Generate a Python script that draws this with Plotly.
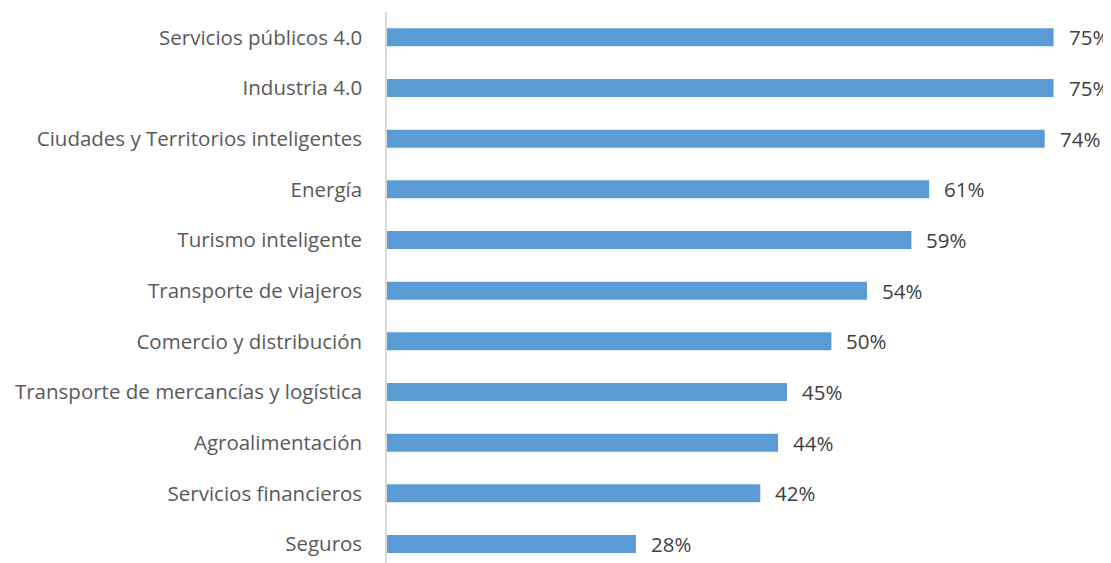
import plotly.graph_objects as go

categories = [
    "Servicios públicos 4.0",
    "Industria 4.0",
    "Ciudades y Territorios inteligentes",
    "Energía",
    "Turismo inteligente",
    "Transporte de viajeros",
    "Comercio y distribución",
    "Transporte de mercancías y logística",
    "Agroalimentación",
    "Servicios financieros",
    "Seguros",
]
values = [75, 75, 74, 61, 59, 54, 50, 45, 44, 42, 28]
labels = ["75%", "75%", "74%", "61%", "59%", "54%", "50%", "45%", "44%", "42%", "28%"]

# bottom-to-top order for plotting
cats_plot = categories[::-1]
vals_plot = values[::-1]
labs_plot = labels[::-1]

FONT = "Open Sans"

fig = go.Figure()
fig.add_trace(go.Bar(
    y=cats_plot,
    x=vals_plot,
    orientation="h",
    marker=dict(color="#5B9BD5", line=dict(width=0)),
    hoverinfo="skip",
))

for c, v, t in zip(cats_plot, vals_plot, labs_plot):
    fig.add_annotation(
        x=v, y=c, text=t, showarrow=False, xanchor="left", xshift=13,
        font=dict(family=FONT, size=20.5, color="#404040"),
    )

fig.update_layout(
    width=1103, height=555,
    margin=dict(l=379, r=13, t=4, b=0, autoexpand=False),
    paper_bgcolor="white", plot_bgcolor="white",
    bargap=0.645,
    showlegend=False,
    font=dict(family=FONT, size=20.5, color="#595959"),
)
fig.update_xaxes(range=[0, 80], visible=False, showgrid=False, zeroline=False)
fig.update_yaxes(
    range=[-0.375, 10.5],
    showline=True, linecolor="#D9D9D9", linewidth=1.5,
    showgrid=False, zeroline=False,
    ticks="", ticklabelstandoff=19,
    tickfont=dict(family=FONT, size=20.5, color="#595959"),
    automargin=False,
)

fig.write_html("out.html")
